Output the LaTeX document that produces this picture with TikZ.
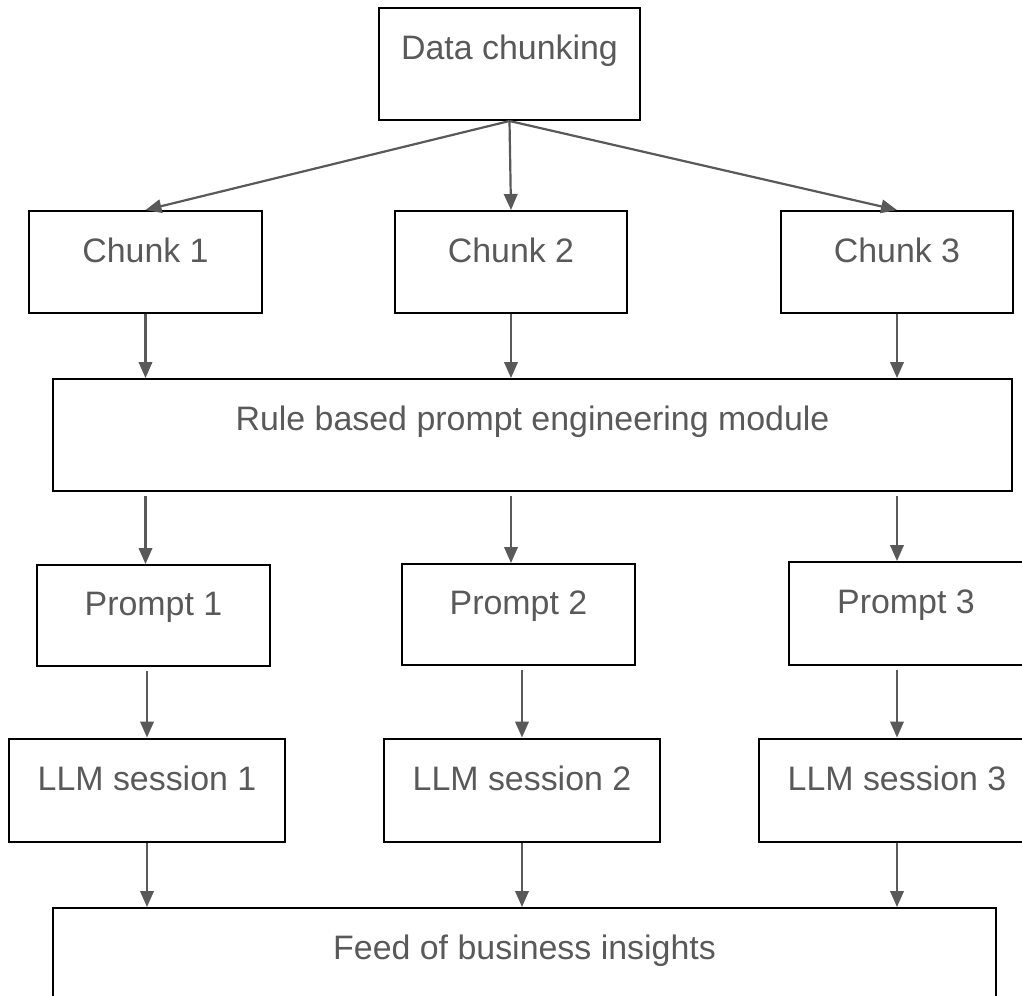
\documentclass[tikz,border=0pt]{standalone}
\usepackage{fontspec}
\setmainfont{Liberation Sans}
\usepackage{tikz}
\usetikzlibrary{arrows.meta}
\definecolor{inkgray}{HTML}{595959}

\begin{document}
\begin{tikzpicture}[x=0.02cm, y=-0.02cm,
  box/.style={draw=black, line width=0.04cm, text=inkgray, inner sep=0pt,
    font=\fontsize{19.3pt}{23pt}\selectfont, text height=14.5pt, text depth=14.5pt},
  tallbox/.style={box, text depth=20.2pt},
  flow/.style={draw=inkgray, line width=0.044cm, -{Triangle[length=0.32cm, width=0.27cm]}}]
  \path[use as bounding box, clip] (0,0) rectangle (1022,995);
  \node[tallbox, minimum width=5.22cm, minimum height=2.24cm] (dc) at (509.5,64) {Data chunking};
  \node[box, minimum width=4.66cm, minimum height=2.04cm] (c1) at (145.5,262) {Chunk 1};
  \node[box, minimum width=4.66cm, minimum height=2.04cm] (c2) at (511,262) {Chunk 2};
  \node[box, minimum width=4.66cm, minimum height=2.04cm] (c3) at (897,262) {Chunk 3};
  \node[tallbox, minimum width=19.18cm, minimum height=2.24cm] (rule) at (532.5,435) {Rule based prompt engineering module};
  \node[box, minimum width=4.66cm, minimum height=2.02cm] (p1) at (153.5,615.5) {Prompt 1};
  \node[box, minimum width=4.66cm, minimum height=2.02cm] (p2) at (518.5,614.5) {Prompt 2};
  \node[box, minimum width=4.68cm, minimum height=2.06cm] (p3) at (906,613.5) {Prompt 3};
  \node[box, minimum width=5.52cm, minimum height=2.06cm] (l1) at (147,790) {LLM session 1};
  \node[box, minimum width=5.52cm, minimum height=2.06cm] (l2) at (522,790) {LLM session 2};
  \node[box, minimum width=5.52cm, minimum height=2.06cm] (l3) at (897,790) {LLM session 3};
  \node[tallbox, minimum width=18.86cm, minimum height=2.24cm] (feed) at (524.5,964) {Feed of business insights};
  % splitting
  \draw[flow] (dc.south) -- (c1.north);
  \draw[flow] (dc.south) -- (c2.north);
  \draw[flow] (dc.south) -- (c3.north);
  \foreach \i in {1,2,3}{
    \draw[flow] (c\i.south) -- (c\i.south |- rule.north);
    \draw[flow] ([yshift=-2pt]rule.south -| c\i.south) -- (p\i.north -| c\i.south);
    \draw[flow] ([yshift=-2pt]p\i.south -| l\i.south) -- (l\i.north);
    \draw[flow] (l\i.south) -- (l\i.south |- feed.north);
  }
\end{tikzpicture}
\end{document}
